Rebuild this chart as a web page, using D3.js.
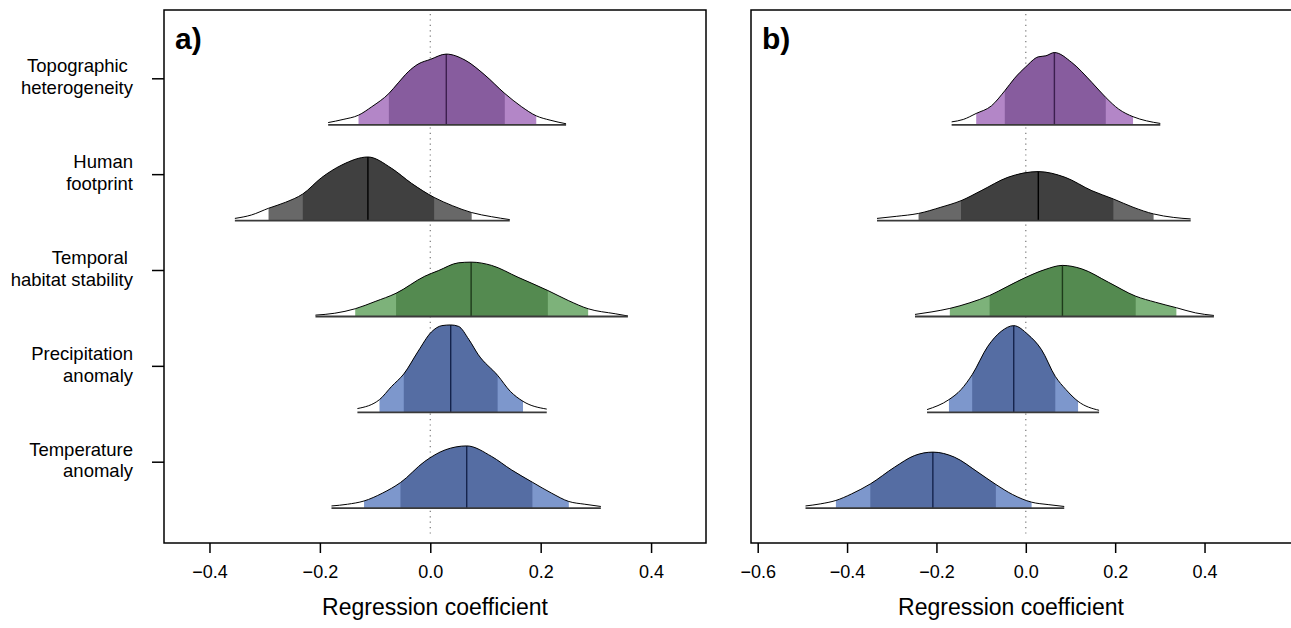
<!DOCTYPE html>
<html>
<head>
<meta charset="utf-8">
<script src="https://cdn.jsdelivr.net/npm/d3@7"></script>
<style>
body { margin: 0; background: #fff; }
text { font-family: "Liberation Sans", Arial, sans-serif; fill: #000; }
</style>
</head>
<body>
<script>
// rows, top to bottom
var categories = ['topo', 'human', 'tempo', 'prec', 'temp'];
var labelLines = [
	['Topographic ', 'heterogeneity'],
	['Human', 'footprint'],
	['Temporal ', 'habitat stability'],
	['Precipitation', 'anomaly'],
	['Temperature', 'anomaly']
];
var ticksA = [-0.4, -0.2, 0.0, 0.2, 0.4];
var ticksB = [-0.6, -0.4, -0.2, 0.0, 0.2, 0.4];

// posterior densities, panel a (coefficient, density)
var topoA_coef = [-0.185, -0.158, -0.130, -0.106, -0.075, -0.058, -0.040, -0.022, 0.000, 0.029, 0.063, 0.099, 0.135, 0.165, 0.192, 0.217, 0.246];
var topoA_dens = [0.13, 0.31, 0.56, 1.05, 1.82, 2.44, 3.08, 3.53, 3.80, 4.11, 3.76, 2.89, 1.82, 1.06, 0.52, 0.27, 0.06];
var humanA_coef = [-0.354, -0.324, -0.293, -0.262, -0.231, -0.197, -0.160, -0.113, -0.070, -0.034, 0.007, 0.040, 0.075, 0.111, 0.144];
var humanA_dens = [0.13, 0.33, 0.72, 1.07, 1.55, 2.50, 3.24, 3.70, 3.04, 2.17, 1.35, 0.87, 0.47, 0.23, 0.06];
var tempoA_coef = [-0.208, -0.173, -0.136, -0.100, -0.062, -0.010, 0.015, 0.051, 0.074, 0.111, 0.159, 0.213, 0.250, 0.286, 0.335, 0.358];
var tempoA_dens = [0.08, 0.19, 0.45, 0.87, 1.35, 2.34, 2.67, 3.12, 3.16, 2.97, 2.28, 1.51, 0.93, 0.45, 0.16, 0.03];
var precA_coef = [-0.132, -0.092, -0.070, -0.048, -0.022, 0.002, 0.021, 0.037, 0.051, 0.070, 0.087, 0.122, 0.145, 0.168, 0.211];
var precA_dens = [0.22, 0.74, 1.51, 2.23, 3.55, 4.67, 5.04, 5.08, 5.00, 4.23, 3.35, 2.15, 1.22, 0.64, 0.19];
var tempA_coef = [-0.179, -0.150, -0.120, -0.087, -0.054, -0.010, 0.027, 0.066, 0.111, 0.147, 0.185, 0.220, 0.251, 0.280, 0.309];
var tempA_dens = [0.13, 0.23, 0.42, 0.87, 1.49, 2.72, 3.39, 3.62, 3.01, 2.23, 1.51, 0.87, 0.39, 0.23, 0.10];

// posterior densities, panel b
var topoB_coef = [-0.166, -0.140, -0.111, -0.077, -0.047, -0.025, 0.000, 0.028, 0.045, 0.064, 0.103, 0.148, 0.179, 0.208, 0.240, 0.270, 0.301];
var topoB_dens = [0.17, 0.31, 0.66, 1.10, 1.98, 2.71, 3.37, 3.95, 4.01, 4.20, 3.62, 2.46, 1.59, 0.91, 0.47, 0.23, 0.08];
var humanB_coef = [-0.333, -0.290, -0.240, -0.190, -0.145, -0.100, -0.040, 0.028, 0.088, 0.148, 0.196, 0.240, 0.286, 0.330, 0.369];
var humanB_dens = [0.13, 0.25, 0.42, 0.78, 1.16, 1.74, 2.52, 2.85, 2.52, 1.74, 1.26, 0.78, 0.39, 0.19, 0.10];
var tempoB_coef = [-0.248, -0.210, -0.170, -0.125, -0.081, -0.040, -0.002, 0.043, 0.082, 0.125, 0.185, 0.246, 0.290, 0.337, 0.380, 0.421];
var tempoB_dens = [0.12, 0.27, 0.47, 0.80, 1.22, 1.76, 2.25, 2.73, 2.97, 2.77, 1.99, 1.18, 0.83, 0.51, 0.21, 0.06];
var precB_coef = [-0.221, -0.172, -0.145, -0.120, -0.085, -0.055, -0.027, 0.005, 0.035, 0.066, 0.090, 0.117, 0.164];
var precB_dens = [0.16, 0.74, 1.32, 2.19, 3.84, 4.71, 5.04, 4.52, 3.65, 2.09, 1.32, 0.64, 0.12];
var tempB_coef = [-0.493, -0.460, -0.425, -0.390, -0.348, -0.294, -0.249, -0.208, -0.160, -0.107, -0.067, -0.030, 0.013, 0.050, 0.086];
var tempB_dens = [0.13, 0.25, 0.45, 0.83, 1.41, 2.38, 3.06, 3.26, 2.97, 2.09, 1.38, 0.80, 0.35, 0.21, 0.10];

// credible intervals (outer, inner) and medians
var quantA_lo95 = [-0.130, -0.293, -0.136, -0.092, -0.120];
var quantA_lo50 = [-0.075, -0.231, -0.062, -0.048, -0.054];
var quantA_med  = [0.029, -0.113, 0.074, 0.037, 0.066];
var quantA_hi50 = [0.135, 0.007, 0.213, 0.122, 0.185];
var quantA_hi95 = [0.192, 0.075, 0.286, 0.168, 0.251];
var quantB_lo95 = [-0.111, -0.240, -0.170, -0.172, -0.425];
var quantB_lo50 = [-0.047, -0.145, -0.081, -0.120, -0.348];
var quantB_med  = [0.064, 0.028, 0.082, -0.027, -0.208];
var quantB_hi50 = [0.179, 0.196, 0.246, 0.066, -0.067];
var quantB_hi95 = [0.240, 0.286, 0.337, 0.117, 0.013];

var darkFill  = ['#875c9e', '#404040', '#548a50', '#556da3', '#556da3'];
var lightFill = ['#b386c7', '#686868', '#7db27a', '#7d97cc', '#7d97cc'];
var medColor  = ['#3c1f4e', '#000000', '#1e3b1b', '#15244c', '#15244c'];

function zipCurve(c, d) {
	return c.map(function(v, i){ return {c: v, d: d[i]}; });
}

var curvesA = [zipCurve(topoA_coef, topoA_dens), zipCurve(humanA_coef, humanA_dens),
	zipCurve(tempoA_coef, tempoA_dens), zipCurve(precA_coef, precA_dens), zipCurve(tempA_coef, tempA_dens)];
var curvesB = [zipCurve(topoB_coef, topoB_dens), zipCurve(humanB_coef, humanB_dens),
	zipCurve(tempoB_coef, tempoB_dens), zipCurve(precB_coef, precB_dens), zipCurve(tempB_coef, tempB_dens)];

var boxTop = 10, boxBottom = 543;
var svg = d3.select('body').append('svg')
	.attr('width', 1291).attr('height', 628);

var yScale = d3.scalePoint().domain(categories).range([78.3, 461.7]);
var baseOffset = 46.5;
// density units -> pixels
var hScale = d3.scaleLinear().domain([0, 5.58]).range([0, -96]);

function drawPanel(id, left, right, domain, ticks, curves, q, letter, showY, titleX) {
	var x = d3.scaleLinear().domain(domain).range([left, right]);
	var g = svg.append('g').attr('id', id);

	// zero reference line
	g.append('line')
		.attr('x1', x(0)).attr('x2', x(0)).attr('y1', 14).attr('y2', 537)
		.attr('stroke', '#777').attr('stroke-width', 1.2).attr('stroke-dasharray', '1.2,4.2');

	var area = d3.area()
		.x(function(d){ return x(d.c); })
		.y0(0)
		.y1(function(d){ return hScale(d.d); })
		.curve(d3.curveMonotoneX);
	var line = d3.line()
		.x(function(d){ return x(d.c); })
		.y(function(d){ return hScale(d.d); })
		.curve(d3.curveMonotoneX);

	categories.forEach(function(cat, i) {
		var data = curves[i];
		var row = g.append('g')
			.attr('transform', 'translate(0,' + (yScale(cat) + baseOffset) + ')');
		var defs = row.append('defs');
		defs.append('clipPath').attr('id', id + 'c95_' + i)
			.append('rect').attr('x', x(q.lo95[i])).attr('width', x(q.hi95[i]) - x(q.lo95[i]))
			.attr('y', -120).attr('height', 120);
		defs.append('clipPath').attr('id', id + 'c50_' + i)
			.append('rect').attr('x', x(q.lo50[i])).attr('width', x(q.hi50[i]) - x(q.lo50[i]))
			.attr('y', -120).attr('height', 120);
		defs.append('clipPath').attr('id', id + 'ca_' + i)
			.append('path').attr('d', area(data));

		row.append('path').attr('d', area(data)).attr('fill', '#fff');
		row.append('path').attr('d', area(data)).attr('fill', lightFill[i])
			.attr('clip-path', 'url(#' + id + 'c95_' + i + ')');
		row.append('path').attr('d', area(data)).attr('fill', darkFill[i])
			.attr('clip-path', 'url(#' + id + 'c50_' + i + ')');
		row.append('line')
			.attr('x1', x(q.med[i])).attr('x2', x(q.med[i])).attr('y1', 0).attr('y2', -110)
			.attr('stroke', medColor[i]).attr('stroke-width', 1.4)
			.attr('clip-path', 'url(#' + id + 'ca_' + i + ')');
		row.append('path').attr('d', line(data)).attr('fill', 'none')
			.attr('stroke', '#000').attr('stroke-width', 1);
		row.append('line')
			.attr('x1', x(data[0].c)).attr('x2', x(data[data.length - 1].c))
			.attr('y1', 0).attr('y2', 0)
			.attr('stroke', '#3a3a3a').attr('stroke-width', 1.8);
	});

	// box
	g.append('rect')
		.attr('x', left).attr('y', boxTop).attr('width', right - left).attr('height', boxBottom - boxTop)
		.attr('fill', 'none').attr('stroke', '#000').attr('stroke-width', 1.5);

	// x axis
	var xAxis = d3.axisBottom(x).tickValues(ticks).tickSize(10).tickPadding(12)
		.tickFormat(function(d){ return d3.format('.1f')(d).replace('-', '\u2212'); });
	var ax = g.append('g').attr('transform', 'translate(0,' + boxBottom + ')').call(xAxis);
	ax.select('.domain').remove();
	ax.selectAll('.tick line').attr('stroke', '#000').attr('stroke-width', 1.5);
	ax.selectAll('.tick text').attr('font-size', 18).attr('font-family', '"Liberation Sans", Arial, sans-serif').attr('fill', '#000');

	g.append('text')
		.attr('x', titleX)
		.attr('y', 615).attr('text-anchor', 'middle').attr('font-size', 23)
		.text('Regression coefficient');

	g.append('text')
		.attr('x', left + 11).attr('y', 49)
		.attr('font-size', 30).attr('font-weight', 'bold')
		.text(letter);

	if (showY) {
		var yAxis = d3.axisLeft(yScale).tickSize(12).tickFormat('');
		var ay = g.append('g').attr('transform', 'translate(' + left + ',0)').call(yAxis);
		ay.select('.domain').remove();
		ay.selectAll('.tick line').attr('stroke', '#000').attr('stroke-width', 1.5);

		categories.forEach(function(cat, i) {
			var t = g.append('text')
				.attr('text-anchor', 'end')
				.attr('font-size', 18.5)
				.style('white-space', 'pre');
			t.append('tspan').attr('x', 133).attr('y', yScale(cat) - 6).text(labelLines[i][0]);
			t.append('tspan').attr('x', 133).attr('y', yScale(cat) + 15.7).text(labelLines[i][1]);
		});
	}
}

drawPanel('pa', 164, 706, [-0.4824, 0.4995], ticksA, curvesA,
	{lo95: quantA_lo95, lo50: quantA_lo50, med: quantA_med, hi50: quantA_hi50, hi95: quantA_hi95}, 'a)', true, 435);
drawPanel('pb', 751, 1293, [-0.615, 0.598], ticksB, curvesB,
	{lo95: quantB_lo95, lo50: quantB_lo50, med: quantB_med, hi50: quantB_hi50, hi95: quantB_hi95}, 'b)', false, 1011);
</script>
</body>
</html>
